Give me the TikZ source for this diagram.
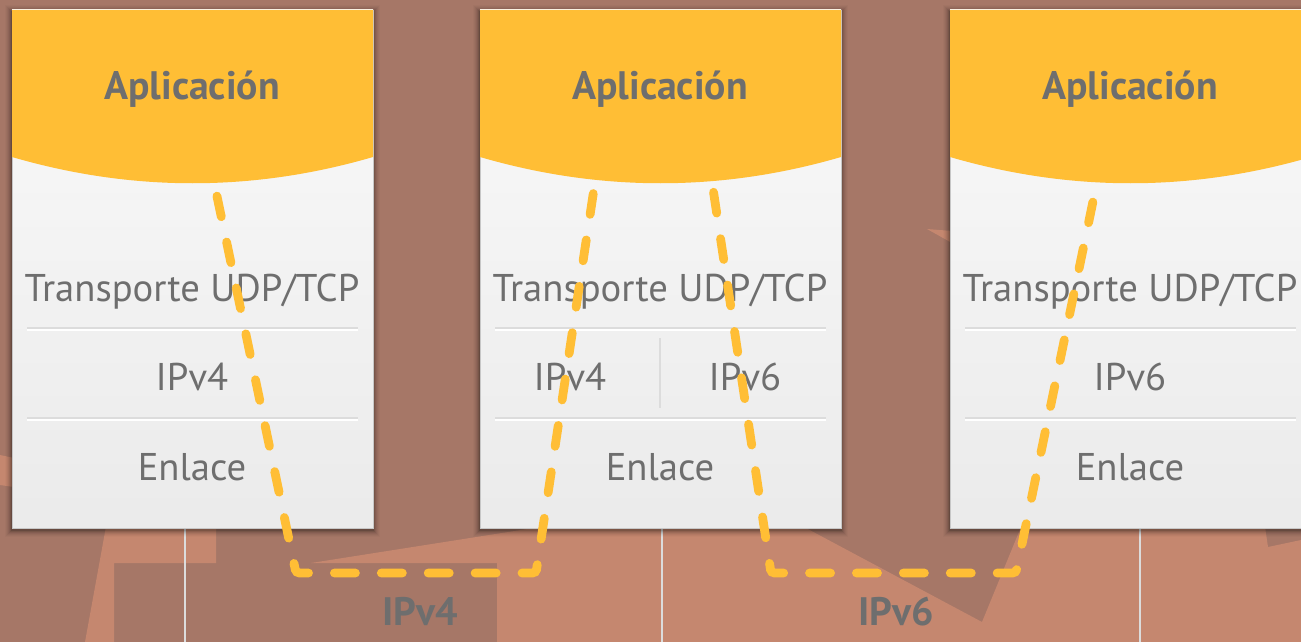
\documentclass[tikz,border=0pt]{standalone}
\usepackage{fontspec}
\setmainfont{PT Sans}
\usetikzlibrary{positioning}
\definecolor{fondo}{HTML}{A67767}
\definecolor{fondoclaro}{HTML}{C5876F}
\definecolor{amarillo}{HTML}{FFBE35}
\definecolor{tinta}{HTML}{6E6E6E}
\definecolor{linea}{HTML}{DCDCDC}

\begin{document}
\begin{tikzpicture}[
  x=0.02cm,
  y=-0.02cm,
  every node/.style={font=\fontsize{22}{26}\selectfont, text=tinta, inner sep=0pt},
  capa/.style={anchor=base},
  titulo/.style={anchor=base, font=\fontsize{22.6}{27}\selectfont\bfseries},
  red/.style={anchor=base, font=\fontsize{22.6}{27}\selectfont\bfseries},
  cuerpo/.style={top color=white!98!black, bottom color=white!92!black,
                 draw=black!22, line width=0.5pt},
  sep/.style={linea, line width=0.9pt},
  bajo/.style={linea, line width=1.1pt},
  ruta/.style={amarillo, line width=5pt, line cap=round,
               dash pattern=on 12pt off 14.7pt, rounded corners=2pt}
]
  \useasboundingbox (0,0) rectangle (1301,642);

  % ---- fondo ----
  \fill[fondo] (0,0) rectangle (1301,642);
  \fill[fondoclaro] (0,455) -- (14,458) -- (14,487) -- (0,485) -- cycle;
  \fill[fondoclaro] (109,510) -- (216,510) -- (216,563) -- (114,563)
                    -- (114,642) -- (85,642) -- cycle;
  \fill[fondoclaro] (311,563) -- (540,527) -- (804,527) -- (982,622)
                    -- (1021,527) -- (1265,527) -- (1268,547) -- (1301,540)
                    -- (1301,642) -- (497,642) -- (497,563) -- cycle;
  \fill[fondoclaro] (927,229) -- (952,231) -- (952,243) -- cycle;

  % ---- lineas bajo las pilas ----
  \draw[bajo] (185,528) -- (185,642);
  \draw[bajo] (662,528) -- (662,642);
  \draw[bajo] (1140,528) -- (1140,642);

  % ---- las tres pilas ----
  \foreach \xa in {12,480,950} {
    \foreach \s/\o in {1/0.12,2/0.09,3/0.07,4/0.05,5/0.04,6/0.03,7/0.02}
      \fill[black, opacity=\o] (\xa-\s,10-\s+2) rectangle (\xa+361+\s,528+\s+2);
    \draw[cuerpo] (\xa,10) rectangle (\xa+361,528);
    \fill[amarillo] (\xa,10) -- (\xa+361,10) -- (\xa+361,157)
      .. controls (\xa+241,192) and (\xa+120,192) .. (\xa,157) -- cycle;
    \draw[sep] (\xa+15,328) -- (\xa+346,328);
    \draw[white, line width=0.9pt] (\xa+15,330) -- (\xa+346,330);
    \draw[sep] (\xa+15,418) -- (\xa+346,418);
    \draw[white, line width=0.9pt] (\xa+15,420) -- (\xa+346,420);
  }
  \draw[sep] (660,338) -- (660,408);

  % ---- capas ----
  \node[titulo] (apl1) at (192,100) {Aplicación};
  \node[titulo] (apl2) at (660,100) {Aplicación};
  \node[titulo] (apl3) at (1130,100) {Aplicación};

  \node[capa] (tra1) at (192,301) {Transporte UDP/TCP};
  \node[capa] (tra2) at (660,301) {Transporte UDP/TCP};
  \node[capa] (tra3) at (1130,301) {Transporte UDP/TCP};

  \node[capa] (ip1)  at (192,390) {IPv4};
  \node[capa] (ip2a) at (570,390) {IPv4};
  \node[capa] (ip2b) at (745,390) {IPv6};
  \node[capa] (ip3)  at (1130,390) {IPv6};

  \node[capa] (enl1) at (192,480) {Enlace};
  \node[capa] (enl2) at (660,480) {Enlace};
  \node[capa] (enl3) at (1130,480) {Enlace};

  \node[red] (red4) at (420,625) {IPv4};
  \node[red] (red6) at (896,625) {IPv6};

  % ---- recorridos ----
  \coordinate (r1a) at (214,182);
  \coordinate (r1b) at (296,573);
  \coordinate (r1c) at (536,573);
  \coordinate (r1d) at (595,182);
  \coordinate (r2a) at (712,182);
  \coordinate (r2b) at (771,573);
  \coordinate (r2c) at (1016,573);
  \coordinate (r2d) at (1097,182);
  \draw[ruta, dash phase=18.5pt] (r1a) -- (r1b) -- (r1c) -- (r1d);
  \draw[ruta, dash phase=20.8pt] (r2a) -- (r2b) -- (r2c) -- (r2d);
\end{tikzpicture}
\end{document}
